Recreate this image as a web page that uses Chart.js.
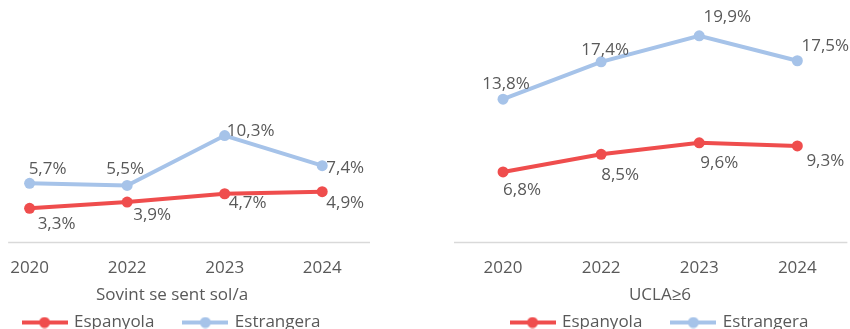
<!DOCTYPE html>
<html>
<head>
<meta charset="utf-8">
<script src="https://cdn.jsdelivr.net/npm/chart.js@4.4.1/dist/chart.umd.min.js"></script>
<style>
  html, body { margin: 0; padding: 0; background: #fff; overflow: hidden; }
  body { width: 850px; height: 329px; position: relative; }
  .panel { position: absolute; top: 0; }
  #leftPanel { left: -26px; }
  #rightPanel { left: 454px; }
</style>
</head>
<body>
<div class="panel" id="leftPanel"><canvas id="chartSol" width="396" height="329"></canvas></div>
<div class="panel" id="rightPanel"><canvas id="chartUcla" width="412" height="329"></canvas></div>
<script>
const years = ['2020', '2022', '2023', '2024'];
const seriesNames = ['Espanyola', 'Estrangera'];

// Sovint se sent sol/a
const solEspanyola = [3.3, 3.9, 4.7, 4.9];
const solEstrangera = [5.7, 5.5, 10.3, 7.4];

// UCLA>=6
const uclaEspanyola = [6.8, 8.5, 9.6, 9.3];
const uclaEstrangera = [13.8, 17.4, 19.9, 17.5];

const RED = '#ef4d4d';
const BLUE = '#a6c3e9';
const TEXT = '#595959';
const FONT = "'Open Sans', sans-serif";

// small line-with-dot marker used in the legend
function legendMarker(color) {
  const c = document.createElement('canvas');
  c.width = 46; c.height = 12;
  const g = c.getContext('2d');
  g.strokeStyle = color;
  g.lineWidth = 4;
  g.beginPath(); g.moveTo(0, 6); g.lineTo(46, 6); g.stroke();
  g.fillStyle = color;
  g.beginPath(); g.arc(23, 6, 5.5, 0, Math.PI * 2); g.fill();
  return c;
}
const markers = [legendMarker(RED), legendMarker(BLUE)];

function fmt(v) {
  return v.toFixed(1).replace('.', ',') + '%';
}

// draws the value next to each point, shifted by per-point offsets
const pointLabels = {
  id: 'pointLabels',
  afterDatasetsDraw(chart, args, opts) {
    const ctx = chart.ctx;
    ctx.save();
    ctx.font = '17px ' + FONT;
    ctx.fillStyle = TEXT;
    ctx.textAlign = 'center';
    ctx.textBaseline = 'middle';
    chart.data.datasets.forEach((ds, di) => {
      const meta = chart.getDatasetMeta(di);
      meta.data.forEach((pt, i) => {
        const off = opts.offsets[di][i];
        ctx.fillText(fmt(ds.data[i].y), pt.x + off[0], pt.y + off[1]);
      });
    });
    ctx.restore();
  }
};

// horizontal base line, only over part of the x range
const baseLine = {
  id: 'baseLine',
  beforeDatasetsDraw(chart, args, opts) {
    const x = chart.scales.x;
    const y = chart.chartArea.bottom;
    const ctx = chart.ctx;
    ctx.save();
    ctx.strokeStyle = '#d9d9d9';
    ctx.lineWidth = 1.5;
    ctx.beginPath();
    ctx.moveTo(x.getPixelForValue(opts.from), y);
    ctx.lineTo(x.getPixelForValue(opts.to), y);
    ctx.stroke();
    ctx.restore();
  }
};

function makeChart(id, title, esp, est, xRange, lineRange, offsets) {
  const toPoints = arr => arr.map((v, i) => ({ x: i, y: v }));
  const lineStyle = color => ({
    borderColor: color,
    backgroundColor: color,
    borderWidth: 4,
    pointRadius: 5.5,
    pointBorderWidth: 0,
    clip: false
  });
  return new Chart(document.getElementById(id), {
    type: 'line',
    data: {
      datasets: [
        Object.assign({ label: seriesNames[0], data: toPoints(esp) }, lineStyle(RED)),
        Object.assign({ label: seriesNames[1], data: toPoints(est) }, lineStyle(BLUE))
      ]
    },
    options: {
      responsive: false,
      devicePixelRatio: 1,
      animation: false,
      layout: { autoPadding: false, padding: { top: 14, left: 0, right: 0, bottom: -12 } },
      scales: {
        x: {
          type: 'linear',
          min: xRange[0],
          max: xRange[1],
          grid: { display: false, drawTicks: true, tickLength: 15 },
          border: { display: false },
          afterBuildTicks: axis => {
            axis.ticks = years.map((y, i) => ({ value: i }));
          },
          afterFit: axis => { axis.height = 35; },
          ticks: {
            padding: 0,
            maxRotation: 0,
            color: TEXT,
            font: { family: FONT, size: 17 },
            callback: v => years[v]
          }
        },
        y: { display: false, min: 0, max: 22 }
      },
      plugins: {
        tooltip: { enabled: false },
        title: {
          display: true,
          text: title,
          position: 'bottom',
          weight: 500,
          color: TEXT,
          font: { family: FONT, size: 17, weight: 'normal' },
          padding: { top: 7, bottom: -21 }
        },
        legend: {
          position: 'bottom',
          labels: {
            color: TEXT,
            font: { family: FONT, size: 17 },
            usePointStyle: true,
            pointStyleWidth: 42,
            boxHeight: 12,
            padding: 30,
            generateLabels: chart => chart.data.datasets.map((ds, i) => ({
              text: ds.label,
              pointStyle: markers[i],
              fontColor: TEXT,
              datasetIndex: i,
              lineWidth: 0,
              strokeStyle: 'transparent',
              fillStyle: 'transparent'
            }))
          }
        },
        baseLine: { from: lineRange[0], to: lineRange[1] },
        pointLabels: { offsets: offsets }
      }
    },
    plugins: [baseLine, pointLabels]
  });
}

makeChart('chartSol', 'Sovint se sent sol/a', solEspanyola, solEstrangera, [-0.57, 3.49], [-0.22, 3.49], [
  [[27, 16], [25, 13], [23, 9], [23, 11]],
  [[18, -14], [-2, -16], [26, -4], [23, 2]]
]);

makeChart('chartUcla', 'UCLA\u22656', uclaEspanyola, uclaEstrangera, [-0.5, 3.7], [-0.5, 3.51], [
  [[19, 18], [19, 21], [20, 20], [28, 15]],
  [[3, -15], [4, -12], [28, -19], [28, -15]]
]);
</script>
</body>
</html>
